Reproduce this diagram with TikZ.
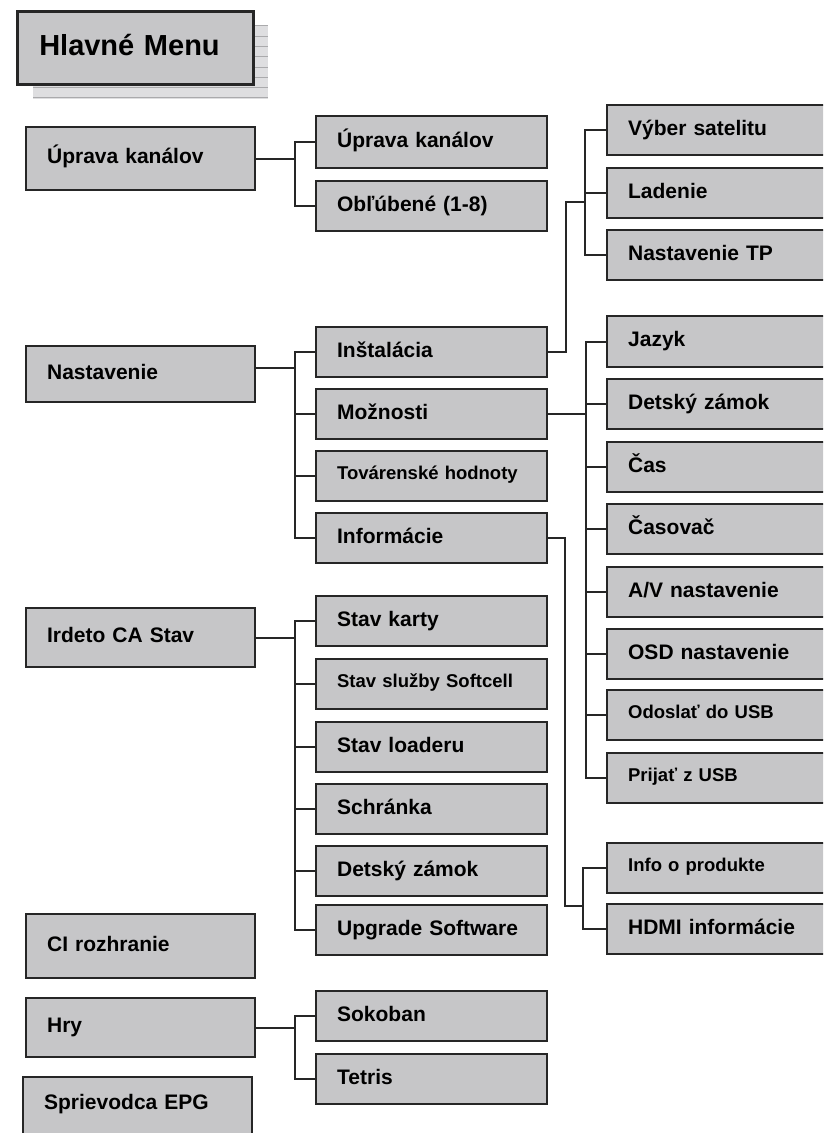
\documentclass[tikz,border=0pt]{standalone}
\usepackage{fontspec}
\setmainfont{Liberation Sans}
\usetikzlibrary{calc}
\definecolor{boxfill}{RGB}{198,198,200}
\definecolor{edgecol}{RGB}{38,38,38}
\definecolor{shadowfill}{RGB}{222,222,224}
\definecolor{shadowline}{RGB}{170,170,172}
\begin{document}
\begin{tikzpicture}[x=1pt,y=-1pt,
  box/.style={draw=edgecol, line width=2.3pt, fill=boxfill, anchor=north west,
    inner xsep=21pt, inner ysep=0pt, align=left,
    font=\bfseries\fontsize{21}{25}\selectfont, text height=15pt, text depth=5pt},
  smalltxt/.style={font=\bfseries\fontsize{18.5}{22}\selectfont, text height=13.2pt, text depth=6.2pt},
  lcol/.style={minimum width=229pt, text width=187pt},
  mcol/.style={minimum width=231pt, text width=189pt, minimum height=50pt},
  rcol/.style={minimum width=240pt, text width=198pt, minimum height=50pt},
  titlebox/.style={draw=edgecol, line width=2.5pt, fill=boxfill, anchor=north west,
    inner xsep=22pt, inner ysep=0pt, align=left, minimum width=236pt, minimum height=73pt,
    text width=192pt, font=\bfseries\fontsize{29}{34}\selectfont, text height=20.8pt, text depth=5.8pt},
  conn/.style={draw=edgecol, line width=2pt}
]
\clip (0,0) rectangle (823,1133);
\fill[white] (0,0) rectangle (823,1133);

% title shadow
\fill[shadowfill] (33,25) rectangle (268,99);
\foreach \k in {0,...,7}{
  \draw[shadowline, line width=0.8pt] (33,25.7+10.3*\k) -- (268,25.7+10.3*\k);
}
\node[titlebox] (title) at (16,10) {Hlavné Menu};

% left column
\node[box,lcol,minimum height=63pt] (L1) at (25,126) {Úprava kanálov};
\node[box,lcol,minimum height=56pt] (L2) at (25,345) {Nastavenie};
\node[box,lcol,minimum height=59pt] (L3) at (25,607) {Irdeto CA Stav};
\node[box,lcol,minimum height=64pt] (L4) at (25,913) {CI rozhranie};
\node[box,lcol,minimum height=59pt] (L5) at (25,997) {Hry};
\node[box,lcol,minimum height=70pt,text depth=21pt] (L6) at (22,1076) {Sprievodca EPG};

% middle column
\node[box,mcol,minimum height=52pt] (M1) at (315,115) {Úprava kanálov};
\node[box,mcol] (M2) at (315,180) {Obľúbené (1-8)};
\node[box,mcol] (M3) at (315,326) {Inštalácia};
\node[box,mcol] (M4) at (315,388) {Možnosti};
\node[box,mcol,smalltxt] (M5) at (315,450) {Továrenské hodnoty};
\node[box,mcol] (M6) at (315,512) {Informácie};
\node[box,mcol] (M7) at (315,595) {Stav karty};
\node[box,mcol,smalltxt] (M8) at (315,658) {Stav služby Softcell};
\node[box,mcol] (M9) at (315,721) {Stav loaderu};
\node[box,mcol] (M10) at (315,783) {Schránka};
\node[box,mcol] (M11) at (315,845) {Detský zámok};
\node[box,mcol] (M12) at (315,904) {Upgrade Software};
\node[box,mcol] (M13) at (315,990) {Sokoban};
\node[box,mcol] (M14) at (315,1053) {Tetris};

% right column
\node[box,rcol] (R1) at (606,104) {Výber satelitu};
\node[box,rcol] (R2) at (606,167) {Ladenie};
\node[box,rcol] (R3) at (606,229) {Nastavenie TP};
\node[box,rcol,minimum height=51pt] (R4) at (606,315) {Jazyk};
\node[box,rcol] (R5) at (606,378) {Detský zámok};
\node[box,rcol] (R6) at (606,441) {Čas};
\node[box,rcol] (R7) at (606,503) {Časovač};
\node[box,rcol] (R8) at (606,566) {A/V nastavenie};
\node[box,rcol] (R9) at (606,628) {OSD nastavenie};
\node[box,rcol,smalltxt] (R10) at (606,689) {Odoslať do USB};
\node[box,rcol,smalltxt] (R11) at (606,752) {Prijať z USB};
\node[box,rcol,smalltxt] (R12) at (606,842) {Info o produkte};
\node[box,rcol] (R13) at (606,903) {HDMI informácie};

% connectors: left -> middle
\foreach \c in {M1,M2}{
  \draw[conn] (L1.east) -| ([xshift=-20pt]\c.west) -- (\c.west);
}
\foreach \c in {M3,M4,M5,M6}{
  \draw[conn] ([yshift=6pt]L2.east) -| ([xshift=-20pt]\c.west) -- (\c.west);
}
\foreach \c in {M7,M8,M9,M10,M11,M12}{
  \draw[conn] (L3.east) -| ([xshift=-20pt]\c.west) -- (\c.west);
}
\foreach \c in {M13,M14}{
  \draw[conn] (L5.east) -| ([xshift=-20pt]\c.west) -- (\c.west);
}

% middle -> right
\coordinate (ib) at (566,202);
\foreach \c in {R1,R2,R3}{
  \draw[conn] (M3.east) -| (ib) -| ([xshift=-21pt]\c.west) -- (\c.west);
}
\foreach \c in {R4,R5,R6,R7,R8,R9,R10,R11}{
  \draw[conn] (M4.east) -| ([xshift=-20pt]\c.west) -- (\c.west);
}
\coordinate (fb) at (565,906);
\foreach \c in {R12,R13}{
  \draw[conn] (M6.east) -| (fb) -| ([xshift=-23pt]\c.west) -- (\c.west);
}
\end{tikzpicture}
\end{document}
